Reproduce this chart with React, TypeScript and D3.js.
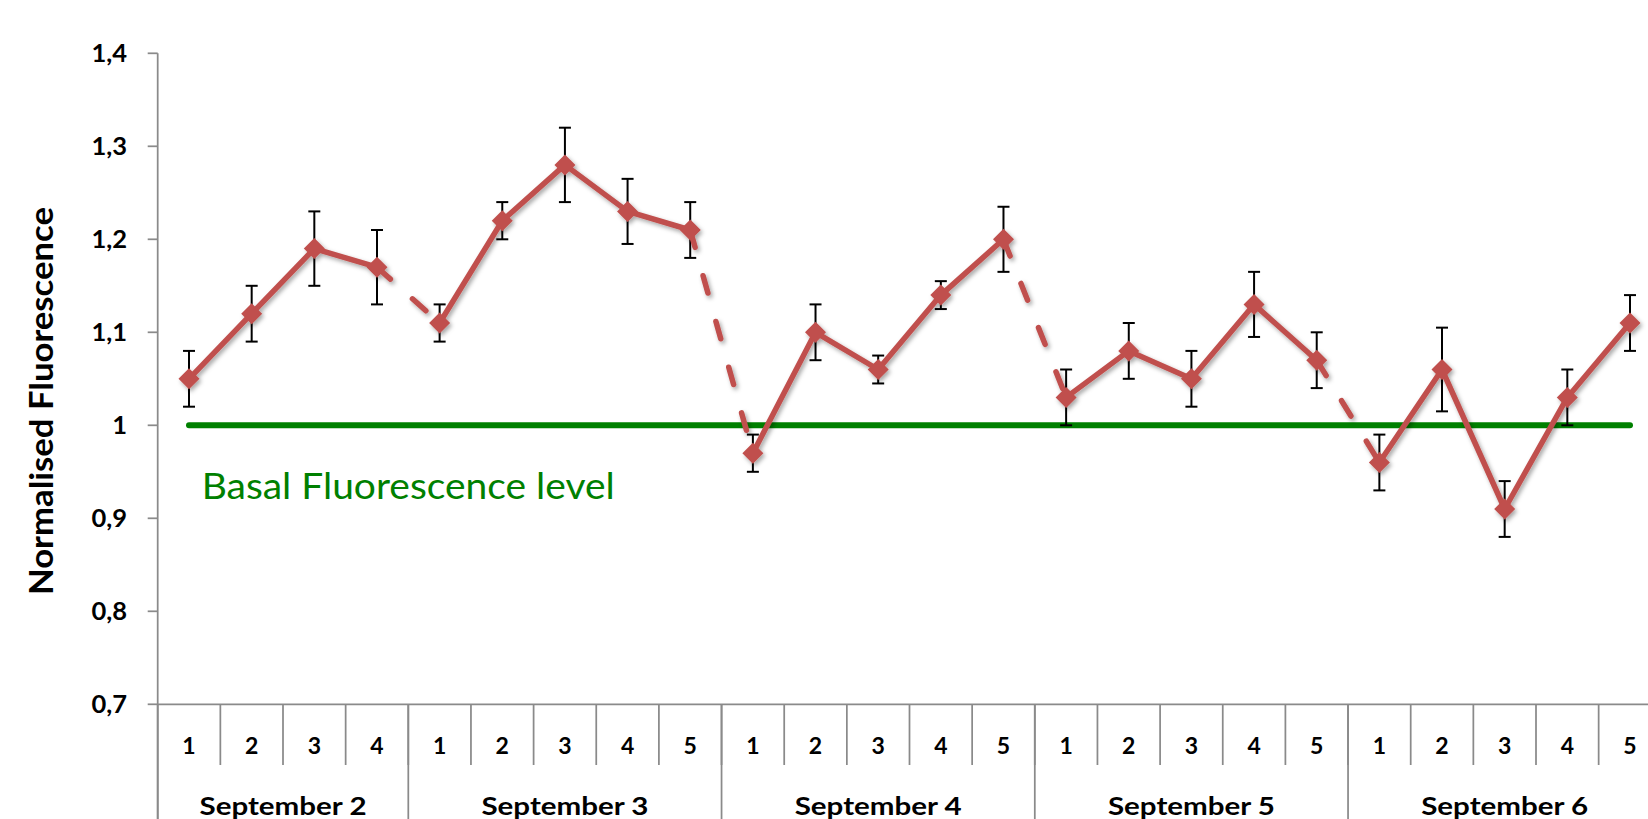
import React from "react";
import * as d3 from "d3";

const groups = ["September 2", "September 3", "September 4", "September 5", "September 6"];
const groupSizes = [4, 5, 5, 5, 5];
const subLabels = ["1", "2", "3", "4", "1", "2", "3", "4", "5", "1", "2", "3", "4", "5", "1", "2", "3", "4", "5", "1", "2", "3", "4", "5"];
const values = [1.05, 1.12, 1.19, 1.17, 1.11, 1.22, 1.28, 1.23, 1.21, 0.97, 1.1, 1.06, 1.14, 1.2, 1.03, 1.08, 1.05, 1.13, 1.07, 0.96, 1.06, 0.91, 1.03, 1.11];
const errors = [0.03, 0.03, 0.04, 0.04, 0.02, 0.02, 0.04, 0.035, 0.03, 0.02, 0.03, 0.015, 0.015, 0.035, 0.03, 0.03, 0.03, 0.035, 0.03, 0.03, 0.045, 0.03, 0.03, 0.03];
const yTicks = [0.7, 0.8, 0.9, 1.0, 1.1, 1.2, 1.3, 1.4];
const basalLevel = 1.0;
const basalLabel = "Basal Fluorescence level";
const yTitle = "Normalised Fluorescence";

const W = 1648;
const H = 819;
const X0 = 157.7;
const X1 = 1661.3;
const Y0 = 704.3;
const Y1 = 53.3;
const FONT = "Lato, 'Open Sans', sans-serif";
const RED = "#C0504D";
const GREEN = "#008000";
const AXIS = "#8a8a8a";

export default function App() {
  const idx = d3.range(values.length);
  const x = d3.scaleBand<number>().domain(idx).range([X0, X1]).padding(0);
  const bw = x.bandwidth();
  const cx = (i: number) => (x(i) as number) + bw / 2;
  const y = d3.scaleLinear().domain([0.7, 1.4]).range([Y0, Y1]);
  const fmt = (v: number) => (Number.isInteger(v) ? String(v) : v.toFixed(1).replace(".", ","));

  const starts: number[] = [];
  let acc = 0;
  groupSizes.forEach((s) => {
    starts.push(acc);
    acc += s;
  });
  const groupLast = new Set(starts.slice(1).map((s) => s - 1));

  const line = d3
    .line<number>()
    .x((i) => cx(i))
    .y((i) => y(values[i]));

  const dashSegs: number[][] = [];
  for (let i = 0; i < values.length - 1; i++) {
    if (groupLast.has(i)) dashSegs.push([i, i + 1]);
  }
  const groupPaths = starts.map((s, g) => d3.range(s, s + groupSizes[g]));
  const D = 10.5;

  return (
    <div style={{ position: "absolute", left: 0, top: 0, width: W, height: H, background: "#fff", overflow: "hidden" }}>
      <svg width={W} height={H} style={{ display: "block" }}>
        <defs>
          <filter id="shadow" filterUnits="userSpaceOnUse" x={0} y={0} width={W} height={H}>
            <feDropShadow dx={2} dy={2.5} stdDeviation={2} floodColor="#000" floodOpacity={0.35} />
          </filter>
        </defs>
        <rect x={0} y={0} width={W} height={H} fill="#fff" />

        {/* Y axis */}
        <line x1={X0} x2={X0} y1={Y1} y2={H} stroke={AXIS} strokeWidth={1.75} />
        {yTicks.map((t) => (
          <g key={t}>
            <line x1={X0 - 10} x2={X0} y1={y(t)} y2={y(t)} stroke={AXIS} strokeWidth={1.75} />
            <text x={127} y={y(t) + 9} textAnchor="end" fontFamily={FONT} fontWeight={700} fontSize={25.5} fill="#000">
              {fmt(t)}
            </text>
          </g>
        ))}
        <text
          transform={`translate(53.3,401) rotate(-90)`}
          textAnchor="middle"
          fontFamily={FONT}
          fontWeight={700}
          fontSize={32}
          textLength={388}
          lengthAdjust="spacingAndGlyphs"
          fill="#000"
        >
          {yTitle}
        </text>

        {/* X axis */}
        <line x1={X0} x2={X1} y1={Y0} y2={Y0} stroke={AXIS} strokeWidth={1.75} />
        {idx.map((i) => (
          <line
            key={"t" + i}
            x1={(x(i) as number) + bw}
            x2={(x(i) as number) + bw}
            y1={Y0}
            y2={765}
            stroke={AXIS}
            strokeWidth={1.75}
          />
        ))}
        {starts.concat([values.length]).map((s) => (
          <line key={"g" + s} x1={X0 + s * bw} x2={X0 + s * bw} y1={Y0} y2={H} stroke={AXIS} strokeWidth={1.75} />
        ))}
        {idx.map((i) => (
          <text key={"l" + i} x={cx(i)} y={754.3} textAnchor="middle" fontFamily={FONT} fontWeight={700} fontSize={23} fill="#000">
            {subLabels[i]}
          </text>
        ))}
        {groups.map((g, k) => (
          <text
            key={g}
            x={X0 + (starts[k] + groupSizes[k] / 2) * bw}
            y={815}
            textAnchor="middle"
            fontFamily={FONT}
            fontWeight={700}
            fontSize={25.5}
            textLength={167}
            lengthAdjust="spacingAndGlyphs"
            fill="#000"
          >
            {g}
          </text>
        ))}

        {/* Basal line */}
        <line
          x1={cx(0)}
          x2={cx(values.length - 1)}
          y1={y(basalLevel)}
          y2={y(basalLevel)}
          stroke={GREEN}
          strokeWidth={6}
          strokeLinecap="round"
        />
        <text x={201.7} y={499} fontFamily={FONT} fontSize={37} textLength={413} lengthAdjust="spacingAndGlyphs" fill={GREEN}>
          {basalLabel}
        </text>

        {/* Error bars */}
        <g stroke="#000" strokeWidth={2}>
          {idx.map((i) => (
            <g key={"e" + i}>
              <line x1={cx(i)} x2={cx(i)} y1={y(values[i] - errors[i])} y2={y(values[i] + errors[i])} />
              <line x1={cx(i) - 6} x2={cx(i) + 6} y1={y(values[i] + errors[i])} y2={y(values[i] + errors[i])} />
              <line x1={cx(i) - 6} x2={cx(i) + 6} y1={y(values[i] - errors[i])} y2={y(values[i] - errors[i])} />
            </g>
          ))}
        </g>

        {/* Series */}
        <g filter="url(#shadow)">
          {groupPaths.map((p, k) => (
            <path key={"s" + k} d={line(p) || ""} fill="none" stroke={RED} strokeWidth={5.5} strokeLinejoin="round" strokeLinecap="round" />
          ))}
          {dashSegs.map((p, k) => (
            <path
              key={"d" + k}
              d={line(p) || ""}
              fill="none"
              stroke={RED}
              strokeWidth={5.5}
              strokeLinecap="round"
              strokeDasharray="18 29.5"
            />
          ))}
          {idx.map((i) => {
            const px = cx(i);
            const py = y(values[i]);
            return <path key={"m" + i} d={`M${px},${py - D}L${px + D},${py}L${px},${py + D}L${px - D},${py}Z`} fill={RED} />;
          })}
        </g>
      </svg>
    </div>
  );
}
